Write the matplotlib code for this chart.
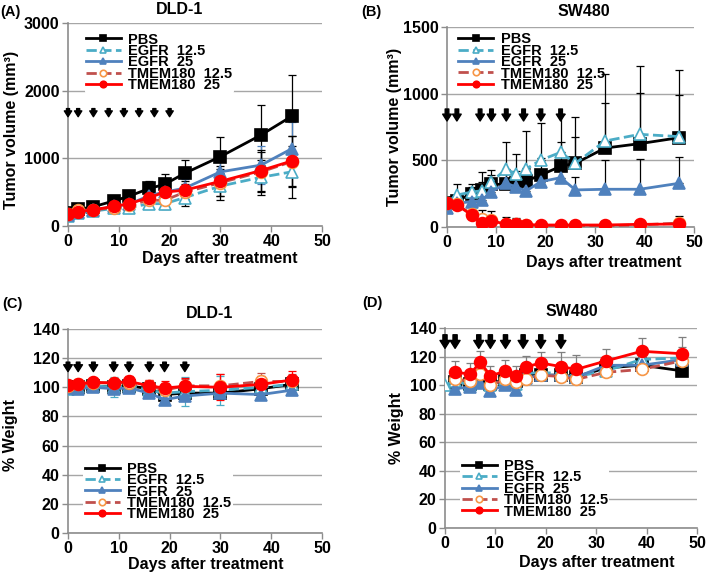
import numpy as np
import matplotlib
matplotlib.use("Agg")
import matplotlib.pyplot as plt

plt.rcParams['font.family'] = ['Liberation Sans', 'DejaVu Sans']
plt.rcParams['font.weight'] = 'bold'

labels = ['PBS', 'EGFR  12.5', 'EGFR  25', 'TMEM180  12.5', 'TMEM180  25']

# ---- (A) DLD-1 tumor volume ----
a_days = [0, 2, 5, 9, 12, 16, 19, 23, 30, 38, 44]
a_vals = [
    [185, 245, 285, 370, 440, 555, 615, 780, 1025, 1345, 1620],
    [150, 190, 220, 260, 270, 330, 330, 420, 590, 720, 800],
    [160, 200, 230, 290, 320, 450, 500, 560, 800, 900, 1140],
    [170, 230, 240, 270, 310, 380, 380, 500, 640, 800, 950],
    [180, 210, 240, 290, 330, 420, 500, 530, 660, 820, 960],
]
a_err = [
    [20, 30, 30, 40, 50, 110, 150, 200, 290, 440, 610],
    [20, 20, 30, 40, 40, 70, 80, 120, 200, 260, 380],
    [20, 20, 30, 40, 40, 80, 100, 130, 200, 280, 400],
    [20, 30, 30, 40, 50, 80, 100, 120, 200, 300, 380],
    [20, 30, 30, 40, 50, 80, 100, 130, 220, 300, 370],
]
a_arrows = [0, 2, 5, 8, 11, 14, 17, 20]

# ---- (B) SW480 tumor volume ----
b_days = [0, 2, 5, 7, 9, 12, 14, 16, 19, 23, 26, 32, 39, 47]
b_vals = [
    [178, 195, 250, 275, 320, 320, 330, 345, 390, 455, 478, 592, 625, 670],
    [182, 240, 262, 272, 340, 435, 395, 435, 502, 560, 478, 645, 695, 678],
    [140, 178, 190, 200, 265, 328, 300, 270, 340, 370, 278, 283, 283, 328],
    [180, 170, 95, 60, 50, 20, 20, 15, 10, 10, 5, 10, 15, 30],
    [178, 165, 90, 32, 45, 22, 22, 18, 15, 15, 15, 15, 20, 22],
]
b_err = [
    [20, 40, 50, 60, 70, 80, 90, 100, 130, 180, 200, 335, 380, 320],
    [20, 80, 60, 140, 90, 205, 155, 285, 280, 290, 350, 500, 515, 497],
    [15, 30, 40, 50, 60, 70, 70, 70, 80, 90, 100, 217, 227, 200],
    [10, 10, 20, 70, 70, 55, 45, 20, 10, 10, 10, 10, 10, 50],
    [10, 10, 15, 20, 20, 15, 15, 10, 10, 10, 10, 10, 10, 20],
]
b_arrows = [0, 2, 6.7, 9, 12, 15.5, 19, 23]

# ---- (C) DLD-1 weight ----
c_days = [0, 2, 5, 9, 12, 16, 19, 23, 30, 38, 44]
c_vals = [
    [100, 100, 101, 100, 101, 99, 95, 96, 96, 99, 102],
    [99, 100, 101, 100, 101, 98, 96, 97, 98, 100, 102],
    [99.5, 99, 100, 99, 99.5, 96, 91.5, 94, 96, 95, 98],
    [101, 102, 103, 103, 103, 101, 98, 101, 101, 104, 104],
    [101.8, 102.5, 103.4, 103, 104, 101, 99.5, 100.7, 100, 102, 105],
]
c_err = [
    [2, 2, 2, 3, 3, 3, 3, 3, 3, 3, 3],
    [2, 2, 3, 7, 4, 4, 4, 10, 10, 5, 5],
    [2, 2, 2, 3, 3, 3, 3, 3, 3, 3, 3],
    [2, 2, 2, 3, 3, 4, 5, 5, 8, 6, 5],
    [2, 2, 2, 3, 4, 4, 5, 6, 9, 6, 6],
]
c_arrows = [0, 2, 5, 9, 12, 16, 19, 23]

# ---- (D) SW480 weight ----
nan = np.nan
d_days = [0, 2, 5, 7, 9, 12, 14, 16, 19, 23, 26, 32, 39, 47]
d_vals = [
    [nan, 102, 101, 106, 101, 104, 103, 107, 107, 107, 106, 112, 114, 110],
    [100, 103, 100, 110, 100, 104, 101, 108, 109, 108, 106, 110, 118, 119],
    [nan, 97.5, 98.7, 101.5, 96, 100.3, 96.4, 105, 106.9, 107, 105.5, 113.9, 113.9, 117.8],
    [nan, 104, 103, 108, 100, 104, 102, 104, 107, 106, 104, 109, 111, 117],
    [nan, 109, 107.8, 116, 106.6, 109.7, 106.6, 112.7, 115.5, 113, 111, 117, 123.7, 122],
]
d_err = [
    [0, 4, 4, 5, 4, 4, 4, 5, 5, 5, 5, 6, 6, 6],
    [0, 5, 5, 6, 5, 5, 5, 6, 7, 7, 6, 8, 8, 8],
    [0, 4, 4, 5, 4, 4, 4, 5, 5, 5, 5, 6, 6, 6],
    [0, 5, 5, 6, 5, 5, 5, 6, 6, 6, 6, 7, 7, 7],
    [0, 8, 8, 8, 7, 8, 7, 8, 8, 10, 10, 8, 9, 12],
]
d_arrows = [0, 2, 6.7, 9, 12, 15.5, 19, 23]

styles = [
    dict(color='black', ls='-', marker='s', mfc='black', mec='black'),
    dict(color='#4bacc6', ls='--', marker='^', mfc='white', mec='#4bacc6'),
    dict(color='#4f81bd', ls='-', marker='^', mfc='#4f81bd', mec='#4f81bd'),
    dict(color='#c0504d', ls='--', marker='o', mfc='white', mec='#f79646'),
    dict(color='#ff0000', ls='-', marker='o', mfc='#ff0000', mec='#ff0000'),
]

W, H = 709, 576
fig = plt.figure(figsize=(W / 100, H / 100), dpi=100)


def px_axes(l, t, r, b):
    return fig.add_axes([l / W, 1 - b / H, (r - l) / W, (b - t) / H])


def panel(ax, days, vals, errs, ymax, ystep, arrows, arr_y, arr_len, arr_w, ecolors,
          symmetric, leg_anchor, leg_loc):
    for i in range(5):
        st = styles[i]
        lower = errs[i] if symmetric else [0] * len(errs[i])
        ax.errorbar(days, vals[i], yerr=[lower, errs[i]], fmt='none',
                    ecolor=ecolors[i], elinewidth=0.9, capsize=3, capthick=0.9, zorder=2)
        ax.plot(days, vals[i], color=st['color'], ls=st['ls'], lw=2,
                marker=st['marker'], ms=8.5, mfc=st['mfc'], mec=st['mec'], mew=1.2,
                label=labels[i], zorder=3)
    for d in arrows:
        ax.annotate('', xy=(d, arr_y - arr_len / 2), xytext=(d, arr_y + arr_len / 2),
                    arrowprops=dict(facecolor='black', edgecolor='black', width=arr_w,
                                    headwidth=arr_w * 2.4, headlength=arr_w * 1.9),
                    zorder=5)
    ax.set_xlim(0, 50)
    ax.set_ylim(0, ymax)
    ax.set_xticks(range(0, 51, 10))
    ax.set_yticks(np.arange(0, ymax + 1, ystep))
    ax.yaxis.grid(True, color='#a6a6a6', lw=1)
    ax.set_axisbelow(True)
    for s in ['top', 'right']:
        ax.spines[s].set_visible(False)
    for s in ['left', 'bottom']:
        ax.spines[s].set_color('#8c8c8c')
        ax.spines[s].set_linewidth(1.2)
    ax.tick_params(axis='both', labelsize=11.5, color='#8c8c8c', length=4, width=1, pad=2)
    for lab in ax.get_xticklabels() + ax.get_yticklabels():
        lab.set_fontweight('bold')
    leg = ax.legend(loc=leg_loc, bbox_to_anchor=leg_anchor, frameon=True,
                    fontsize=10.5, handlelength=2.4, handletextpad=0.5,
                    labelspacing=-0.18, markerscale=0.55, borderpad=0.1,
                    borderaxespad=0)
    leg.get_frame().set_facecolor('white')
    leg.get_frame().set_edgecolor('none')
    leg.get_frame().set_alpha(1)
    leg.set_zorder(1)
    for t in leg.get_texts():
        t.set_fontweight('bold')


axA = px_axes(68, 23, 322, 226)
panel(axA, a_days, a_vals, a_err, 3000, 1000, a_arrows, 1675, 120, 2.2,
      ['black', 'black', '#4f81bd', 'black', 'black'], True, (0.065, 0.96), 'upper left')
axB = px_axes(447, 27, 694, 227)
panel(axB, b_days, b_vals, b_err, 1500, 500, b_arrows, 840, 90, 2.6,
      ['black'] * 5, False, (0.04, 0.98), 'upper left')
axC = px_axes(68, 329, 322, 533)
panel(axC, c_days, c_vals, c_err, 140, 20, c_arrows, 114, 6.5, 2.6,
      ['black', '#4bacc6', '#4f81bd', '#c0504d', '#ff0000'], True, (0.06, 0.05), 'lower left')
axD = px_axes(445, 328, 697, 528)
panel(axD, d_days, d_vals, d_err, 140, 20, d_arrows, 130.5, 9.5, 3.0,
      ['black', '#7f7f7f', '#7f7f7f', '#c0504d', '#7f7f7f'], False, (0.06, 0.04), 'lower left')

tk = dict(fontsize=11.5, fontweight='bold', ha='center', va='center')
# titles
fig.text(180 / W, 1 - 10 / H, 'DLD-1', **tk)
fig.text(584 / W, 1 - 12 / H, 'SW480', **tk)
fig.text(210 / W, 1 - 313 / H, 'DLD-1', **tk)
fig.text(572 / W, 1 - 311 / H, 'SW480', **tk)
# panel letters
fig.text(0 / W, 1 - 12 / H, '(A)', fontsize=10.5, fontweight='bold', ha='left', va='center')
fig.text(361 / W, 1 - 12 / H, '(B)', fontsize=10.5, fontweight='bold', ha='left', va='center')
fig.text(2 / W, 1 - 304 / H, '(C)', fontsize=10.5, fontweight='bold', ha='left', va='center')
fig.text(362 / W, 1 - 303 / H, '(D)', fontsize=10.5, fontweight='bold', ha='left', va='center')
# x labels
fig.text(220 / W, 1 - 258 / H, 'Days after treatment', **tk)
fig.text(604 / W, 1 - 262 / H, 'Days after treatment', **tk)
fig.text(206 / W, 1 - 564 / H, 'Days after treatment', **tk)
fig.text(597 / W, 1 - 563 / H, 'Days after treatment', **tk)
# y labels
fig.text(12 / W, 1 - 130 / H, 'Tumor volume (mm³)', rotation=90, **tk)
fig.text(394 / W, 1 - 127 / H, 'Tumor volume (mm³)', rotation=90, **tk)
fig.text(10 / W, 1 - 435 / H, '% Weight', rotation=90, **tk)
fig.text(396 / W, 1 - 428 / H, '% Weight', rotation=90, **tk)

fig.savefig('out.png', dpi=100)
